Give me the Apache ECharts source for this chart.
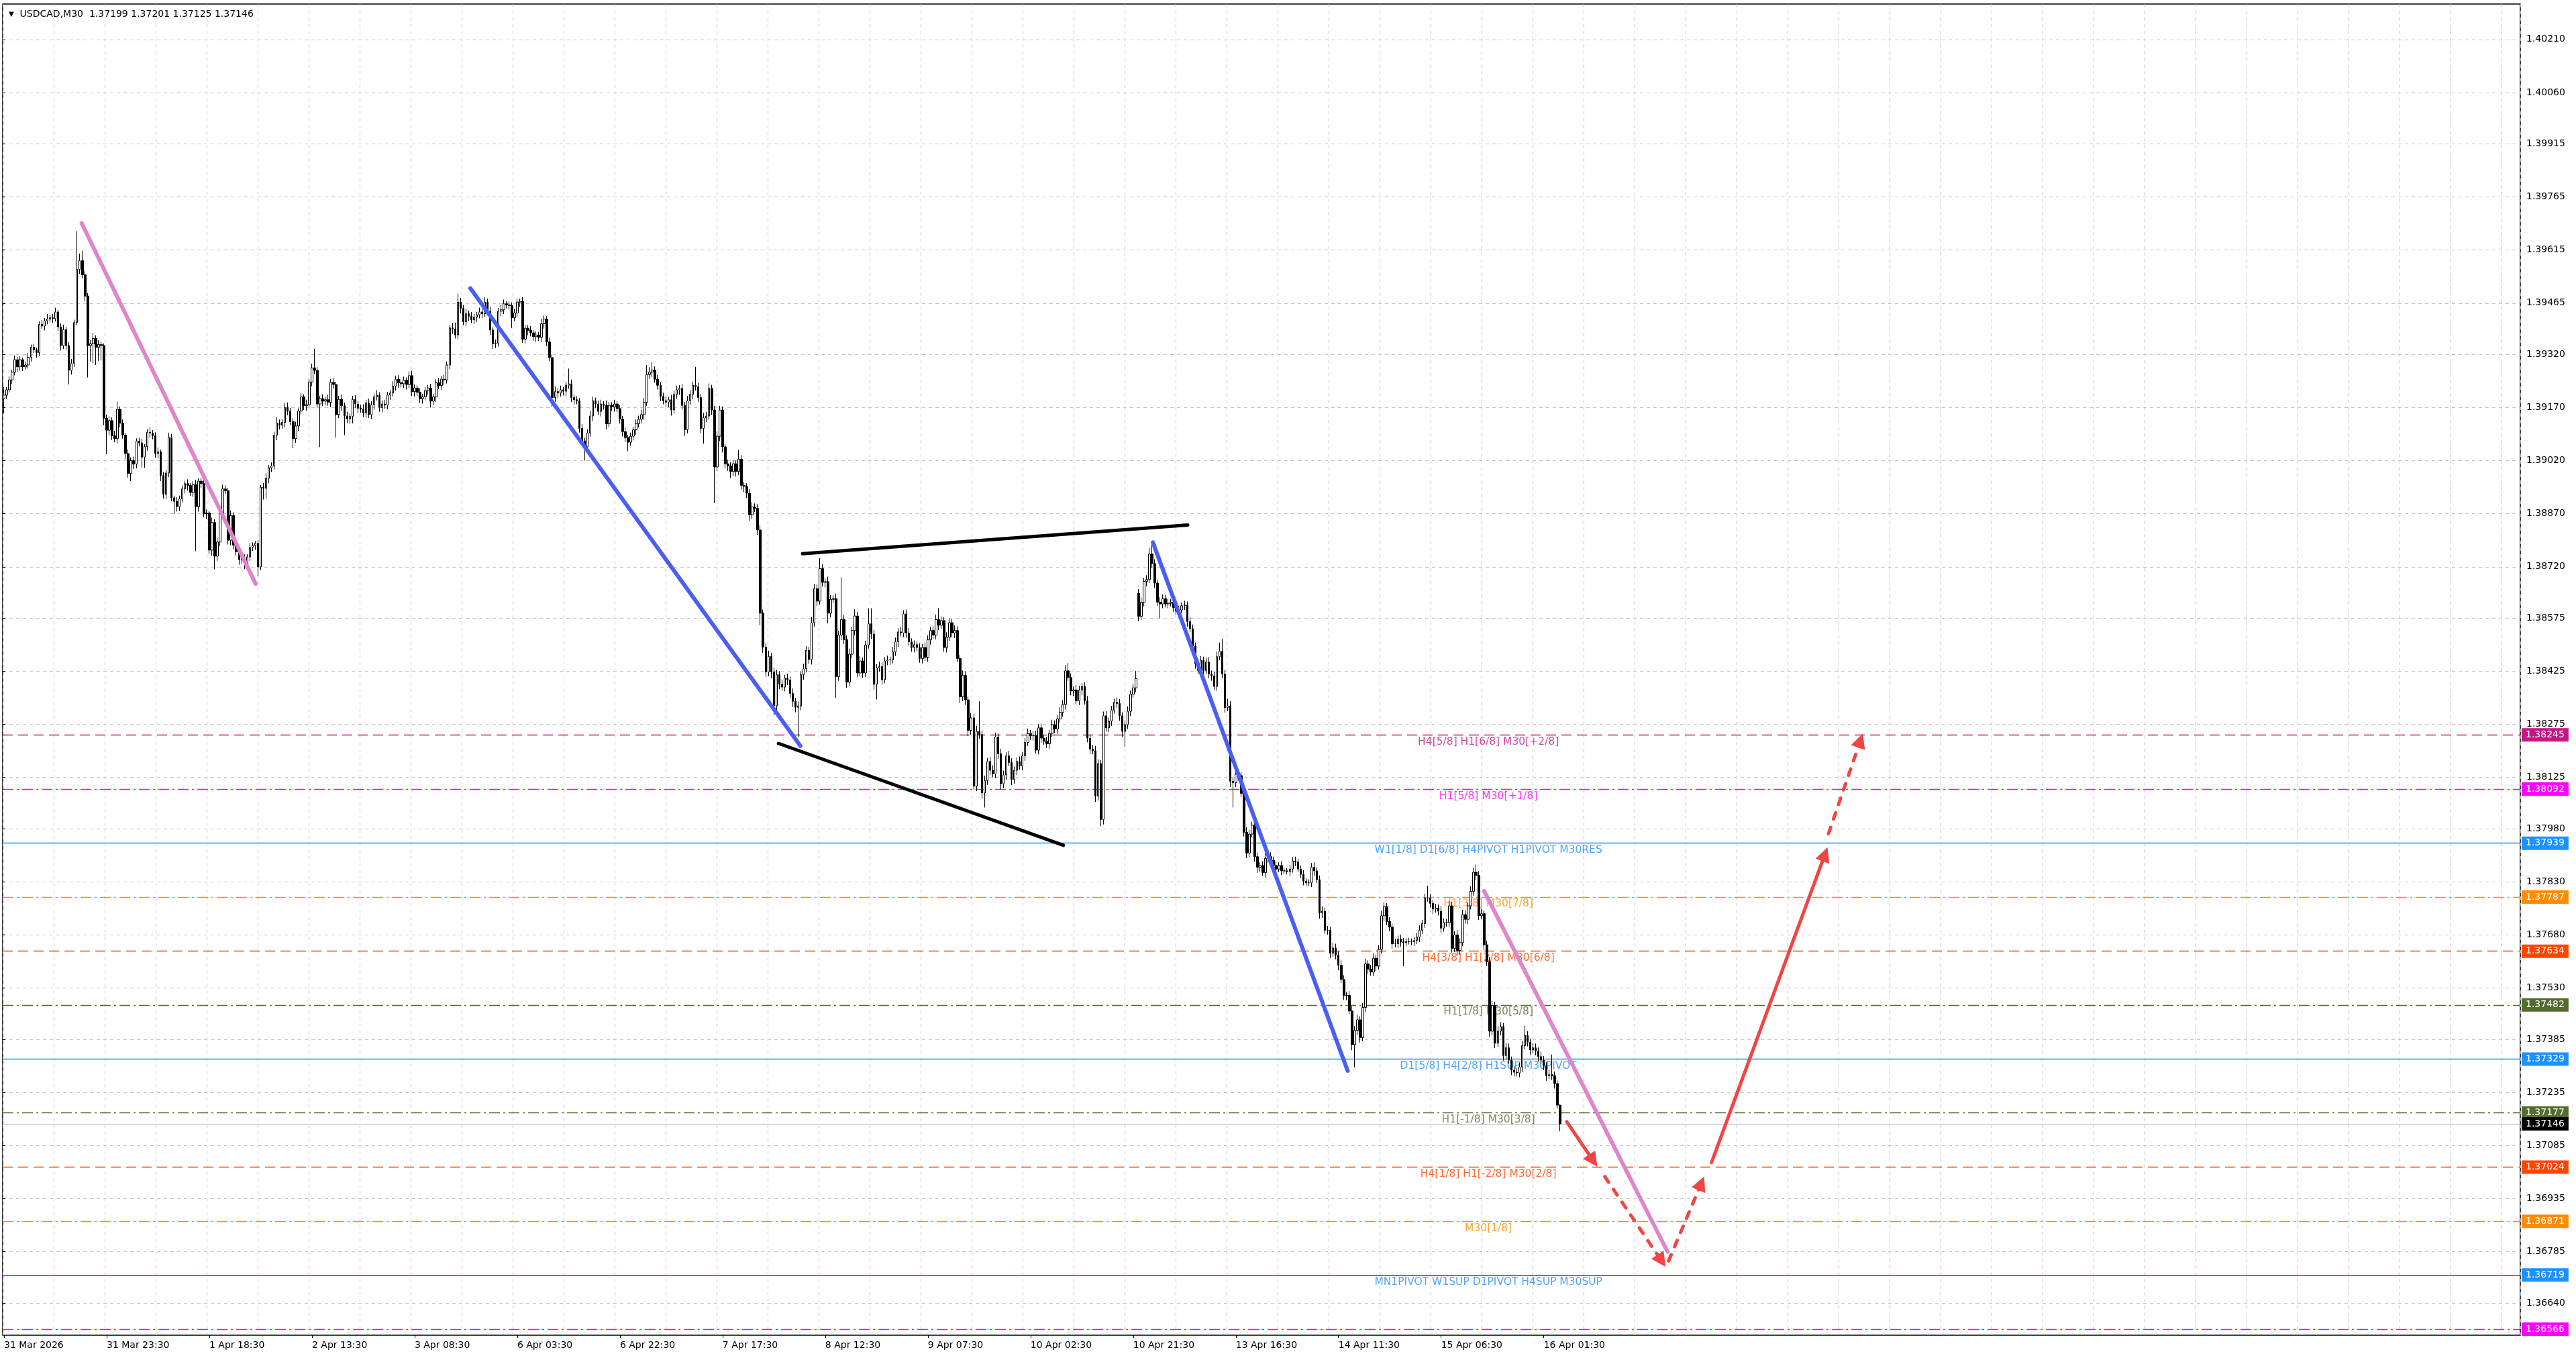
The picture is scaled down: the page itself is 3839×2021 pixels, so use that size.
<!DOCTYPE html>
<html><head><meta charset="utf-8">
<script src="https://cdn.jsdelivr.net/npm/echarts@6/dist/echarts.min.js"></script>
<style>html,body{margin:0;padding:0;background:#fff}#c{width:3839px;height:2021px}</style>
</head><body><div id="c"></div>
<script>
// ---------------- data (prices in points above 1.36000) ----------------
const symbolName = 'USDCAD,M30';
const basePrice = 1.36;
const firstOpenPts = 3195;
const gapOpens = {420: 2645};
const closePts = [
3205,3220,3248,3270,3305,3285,3305,3285,3290,3312,
3340,3333,3325,3405,3400,3415,3420,3424,3421,3440,
3398,3345,3390,3345,3275,3295,3410,3560,3585,3545,
3485,3345,3350,3365,3340,3348,3345,3140,3106,3133,
3090,3082,3165,3126,3092,3040,2984,3020,3010,3075,
3070,3030,3060,3100,3098,3090,3040,3045,2978,2925,
2985,3085,2915,2905,2890,2912,2940,2955,2950,2930,
2952,2890,2962,2955,2870,2872,2767,2845,2750,2790,
2870,2940,2935,2795,2865,2781,2762,2740,2745,2730,
2748,2775,2780,2786,2720,2945,2942,2970,3000,3005,
3092,3126,3120,3128,3170,3160,3130,3082,3118,3160,
3200,3175,3178,3242,3282,3275,3180,3195,3188,3192,
3185,3241,3235,3150,3193,3175,3146,3138,3145,3193,
3180,3168,3165,3155,3183,3150,3178,3200,3205,3170,
3180,3177,3205,3211,3230,3250,3240,3237,3247,3235,
3260,3215,3225,3213,3195,3200,3218,3225,3188,3200,
3240,3232,3250,3248,3290,3395,3392,3375,3468,3450,
3412,3435,3428,3418,3425,3432,3440,3435,
3468,3442,3389,3350,3352,3442,3446,3463,3460,3458,
3424,3437,3468,3470,3363,3394,3388,3381,3370,3375,
3368,3407,3420,3355,3311,3198,3215,3211,3220,3216,
3233,3237,3198,3192,3189,3111,3076,3059,3098,3146,
3189,3180,3159,3180,3176,3124,3176,3172,3180,3167,
3137,3102,3085,3072,3089,3107,3124,3137,3150,3185,
3263,3270,3276,3250,3233,3202,3189,3185,3192,3163,
3207,3220,3224,3176,3107,3189,3207,3233,3228,3198,
3111,3141,3146,3224,3163,3002,3089,3163,3059,3011,
3005,2989,3011,2989,3024,2950,2947,2928,2867,2889,
2885,2824,2589,2493,2423,2467,2423,2327,2415,2388,
2380,2406,2400,2362,2340,2323,2327,2415,2432,2484,
2458,2562,2658,2623,2715,2676,2678,2589,2628,2630,
2410,2527,2571,2514,2394,2473,2540,2581,2420,2454,
2420,2499,2559,2530,2388,2435,2438,2401,2454,2457,
2457,2480,2508,2536,2533,2587,2533,2508,2492,2500,
2492,2461,2492,2464,2514,2540,2527,2571,2555,2568,
2492,2521,2562,2533,2540,2461,2353,2413,2344,2258,
2293,2100,2255,2246,2081,2116,2170,2145,2135,2239,
2192,2107,2132,2186,2167,2119,2145,2170,2157,2186,
2224,2249,2243,2243,2202,2265,2236,2227,2220,2249,
2274,2262,2290,2309,2331,2426,2407,2369,2372,2341,
2372,2382,2341,2236,2205,2200,2072,2164,2006,2299,
2265,2284,2315,2337,2334,2299,2255,2274,2312,2360,2378,2404,
2580,2620,2679,2684,2756,2729,2674,2620,2615,2630,
2615,2617,2620,2605,2595,2598,2610,2612,2565,2545,
2496,2446,2427,2456,2427,2451,2417,2412,2382,2466,
2481,2417,2322,2327,2114,2110,2134,2130,2080,1970,
1911,1965,1990,1901,1871,1876,1856,1896,1901,1891,
1876,1866,1876,1861,1861,1859,1866,1889,1886,1866,
1851,1832,1827,1827,1871,1861,1836,1742,1747,1693,
1693,1628,1643,1623,1594,1554,1509,1509,1465,1370,
1410,1440,1390,1475,1598,1583,1575,1614,1592,1639,
1734,1760,1718,1702,1655,1655,1668,1661,1658,1661,
1662,1661,1664,1674,1693,1712,1784,1784,1769,1753,
1756,1747,1699,1715,1715,1762,1642,1680,1636,1658,
1737,1724,1762,1803,1857,1848,1734,1740,1652,1604,
1408,1481,1374,1408,1421,1339,1361,1326,1298,1292,
1290,1307,1367,1396,1377,1355,1361,1352,1336,1326,
1310,1282,1285,1282,1260,1199,1146
];
const wickUp = [
23,8,10,6,12,8,10,6,9,12, 8,10,6,9,12,8,14,7,10,12, 6,10,14,8,10,12,8,108,20,28,
12,8,10,16,9,12,8,6,10,12, 9,14,22,8,10,6,12,9,11,8, 10,12,7,9,14,8,10,12,6,10,
8,14,10,6,12,9,10,8,12,7, 10,14,8,9,12,10,6,14,9,11, 8,12,10,7,14,9,10,12,6,10,
8,12,9,7,10,6,12,14,8,10, 9,16,10,8,12,14,9,10,12,8, 10,7,14,9,12,54,10,8,12,9,
14,10,12,8,10,14,9,12,8,10, 12,9,10,14,8,12,10,9,14,8, 10,12,9,8,14,10,12,9,10,8,
12,14,10,9,12,8,10,9,12,8, 10,14,9,12,10,8,14,18,24,12, 10,14,9,12,10,8,12,9,13,10,
12,8,10,9,14,12,8,10,9,12, 10,8,12,10,9,12,8,10,9,14, 10,8,12,9,14,10,12,8,10,43,
12,9,10,8,12,9,10,14,12,9, 10,12,8,14,10,9,12,8,10,9, 12,8,10,9,12,10,14,12,27,14,
22,10,12,9,10,12,8,14,10,12, 9,12,10,14,12,10,52,12,10,14, 12,14,10,12,14,12,10,9,12,10,
12,9,26,12,10,9,12,14,10,12, 14,10,12,16,10,12,14,10,12,9, 12,10,14,9,12,10,14,12,10,16,
14,12,30,12,10,14,12,10,14,12, 119,14,12,16,10,19,12,14,10,12, 44,44,12,10,14,12,10,12,9,14,
12,10,14,10,12,14,10,12,9,12, 10,14,12,10,12,14,32,12,10,14, 12,10,14,12,10,14,12,10,14,12,
16,85,12,14,10,12,14,12,10,14, 12,10,14,12,10,12,14,10,12,14, 10,12,14,10,12,9,12,10,14,12,
10,14,12,16,22,12,10,14,12,10, 12,14,10,12,14,12,10,12,14,10, 12,10,14,12,10,12,14,10,12,22,
12,14,10,12,18,32,12,10,14,12, 10,12,9,12,10,12,9,12,10,14, 12,10,14,12,10,12,14,10,12,14,
25,35,12,20,14,10,12,14,10,12, 14,12,10,14,12,10,12,14,10,12, 10,12,9,12,10,8,12,10,12,9,
10,12,8,10,12,14,10,12,14,10, 12,10,14,12,10,14,12,10,12,14, 12,14,10,12,14,10,12,14,10,12,
14,12,10,12,10,14,10,12,10,9, 10,8,10,12,14,10,12,35,12,10, 12,10,14,12,10,14,12,10,14,12,
14,12,10,14,12,22,12,14,10,12, 14,12,10,14,12,10,14,12,10,12, 10,12,14,28,12,10,14,12,10,14,
12,10,14,57,12,10,2
];
const wickDn = [
42,10,8,12,9,14,10,12,8,10, 12,9,14,10,8,12,10,9,12,8, 12,14,10,12,40,12,10,8,12,10,
14,90,45,55,50,38,42,20,68,14, 12,10,14,12,10,16,12,22,14,12, 10,30,30,12,14,10,12,14,16,12,
14,12,10,36,14,12,10,12,14,10, 12,126,14,12,10,14,12,16,37,14, 12,16,10,12,14,12,10,14,12,16,
14,12,10,12,27,10,32,30,14,12, 10,14,12,10,14,12,10,27,12,14, 10,12,14,10,12,10,12,122,14,12,
10,14,12,65,10,14,54,12,14,20, 12,14,10,12,14,10,12,14,10,12, 14,10,12,14,10,12,14,10,12,14,
10,12,14,10,12,14,10,12,18,12, 14,10,12,14,10,12,14,10,12,14, 10,12,14,10,12,14,10,12,10,12,
14,15,12,10,14,12,10,12,29,10, 12,14,10,12,14,10,12,14,10,12, 14,12,10,26,12,14,10,12,14,10,
12,14,10,12,14,39,12,10,14,12, 10,14,12,16,10,12,14,10,12,14, 12,26,10,12,14,10,12,14,10,12,
14,10,12,14,10,12,14,16,10,12, 14,12,17,10,12,14,10,12,14,43, 12,10,14,102,12,14,16,12,14,18,
12,14,10,12,16,14,17,12,10,14, 34,16,14,12,18,27,12,14,10,12, 14,12,16,14,83,12,14,10,12,14,
12,14,10,12,14,29,12,10,60,12, 14,12,16,10,12,14,12,10,14,12, 10,14,16,43,12,14,10,12,14,10,
12,14,10,12,14,10,12,14,10,12, 14,10,12,14,10,12,14,10,12,14, 10,12,14,10,18,12,14,16,12,10,
14,12,16,41,12,14,10,12,14,16, 12,14,10,16,12,14,10,12,14,10, 12,14,10,12,14,10,12,14,10,12,
14,10,12,14,10,12,14,10,12,14, 10,12,14,10,16,12,19,14,10,12, 14,10,12,14,16,44,12,14,10,12,
14,10,12,14,10,12,14,10,40,12, 10,12,9,12,10,12,9,12,14,10, 12,14,10,12,14,10,12,14,10,12,
10,12,14,10,16,70,12,14,10,12, 14,12,10,14,16,12,10,14,12,10, 12,10,9,12,10,8,12,10,12,9,
10,12,8,10,12,14,10,16,14,10, 12,14,10,12,14,10,12,14,10,16, 64,12,14,10,12,14,10,12,14,10,
12,14,10,12,14,10,12,14,66,10, 8,10,12,10,14,10,12,10,12,14, 10,12,14,10,12,14,12,10,14,12,
10,12,14,10,12,14,12,10,14,12, 16,12,14,10,12,14,12,10,14,12, 10,12,14,10,12,14,10,12,14,10,
12,14,10,12,14,10,21
];
const xTickLabels = ['31 Mar 2026','31 Mar 23:30','1 Apr 18:30','2 Apr 13:30','3 Apr 08:30','6 Apr 03:30','6 Apr 22:30','7 Apr 17:30','8 Apr 12:30','9 Apr 07:30','10 Apr 02:30','10 Apr 21:30','13 Apr 16:30','14 Apr 11:30','15 Apr 06:30','16 Apr 01:30'];
const yTickLabels = ['1.40210','1.40060','1.39915','1.39765','1.39615','1.39465','1.39320','1.39170','1.39020','1.38870','1.38720','1.38575','1.38425','1.38275','1.38125','1.37980','1.37830','1.37680','1.37530','1.37385','1.37235','1.37085','1.36935','1.36785','1.36640'];
const levelPrices = [1.38245,1.38092,1.37939,1.37787,1.37634,1.37482,1.37329,1.37177,1.37024,1.36871,1.36719,1.36566];
const levelTexts = ['H4[5/8] H1[6/8] M30[+2/8]','H1[5/8] M30[+1/8]','W1[1/8] D1[6/8] H4PIVOT H1PIVOT M30RES','H1[3/8] M30[7/8]','H4[3/8] H1[2/8] M30[6/8]','H1[1/8] M30[5/8]','D1[5/8] H4[2/8] H1SUP M30PIVOT','H1[-1/8] M30[3/8]','H4[1/8] H1[-2/8] M30[2/8]','M30[1/8]','MN1PIVOT W1SUP D1PIVOT H4SUP M30SUP',''];
const levelColors = ['#C71585','#FF00FF','#1E90FF','#FF8C00','#FF4500','#556B2F','#1E90FF','#556B2F','#FF4500','#FF8C00','#1E90FF','#FF00FF'];
const levelStyles = ['dash','dashdot','solid','dashdot','dash','dashdot','solid','dashdot','dash','dashdot','solid','dashdot'];
// drawn objects: [barIndex, price]
const trendLines = [
  {from:[28.74,1.39691], to:[93.15,1.38672], color:'#DE85CC', width:6},
  {from:[172.6,1.39507], to:[294.8,1.38214], color:'#4A5EF2', width:6},
  {from:[286.7,1.38221], to:[392.2,1.37933], color:'#000000', width:5},
  {from:[295.6,1.38757], to:[438.2,1.38838], color:'#000000', width:5},
  {from:[425.3,1.38789], to:[497.4,1.37296], color:'#4A5EF2', width:6},
  {from:[547.9,1.37804], to:[615.8,1.36785], color:'#DE85CC', width:6}
];
const arrows = [
  {from:[578.5,1.37152], to:[588.3,1.37042], dashed:false},
  {from:[592.6,1.36997], to:[613.6,1.36759], dashed:true},
  {from:[616.2,1.36759], to:[628.3,1.36978], dashed:true},
  {from:[632.1,1.37037], to:[674.1,1.37908], dashed:false},
  {from:[675.4,1.37966], to:[687.2,1.38229], dashed:true}
];

// ---------------- layout ----------------
const W = 3839, H = 2021;
const G = {left:4, right:83, top:6, bottom:31};
const plotW = W - G.left - G.right;
const slotCount = 932;
const barPx = plotW / slotCount;
const gridStep = 76 / barPx;
const yMin = 1.36549, yMax = 1.40310;
const FONT = 'DejaVu Sans';
const levelTextX = 550;

const px = v => +(basePrice + v / 100000).toFixed(5);
const candles = closePts.map((c, i) => {
  const o = i === 0 ? firstOpenPts : (gapOpens[i] !== undefined ? gapOpens[i] : closePts[i - 1]);
  const hi = Math.max(o, c) + wickUp[i];
  const lo = Math.min(o, c) - wickDn[i];
  return [px(o), px(c), px(lo), px(hi)];
});
const lastBar = candles[candles.length - 1];
const lastClose = lastBar[1];

// categories: M30 bar times, weekdays only
const categories = [];
(function(){
  let t = Date.UTC(2026, 2, 31, 4, 30);
  const mon = ['Jan','Feb','Mar','Apr','May','Jun','Jul','Aug','Sep','Oct','Nov','Dec'];
  while (categories.length < slotCount) {
    const d = new Date(t);
    const wd = d.getUTCDay();
    if (wd !== 0 && wd !== 6) {
      categories.push(d.getUTCDate() + ' ' + mon[d.getUTCMonth()] + ' ' +
        String(d.getUTCHours()).padStart(2,'0') + ':' + String(d.getUTCMinutes()).padStart(2,'0'));
    }
    t += 1800000;
  }
})();

const dashType = s => s === 'dash' ? [15, 8] : (s === 'dashdot' ? [16, 5, 3, 5] : 'solid');
const yTickVals = yTickLabels.map(Number);
const showX = idx => idx % 38 === 0 && idx / 38 < xTickLabels.length;

const tagLabel = (txt, bg) => ({show: true, position: 'end', distance: 2, formatter: txt, color: '#fff',
  backgroundColor: bg, padding: [3, 6, 3, 6], fontFamily: FONT, fontSize: 14});
const levelItems = levelPrices.map((p, k) => ({
  coords: [[0, p], [slotCount, p]],
  lineStyle: {color: levelColors[k], type: dashType(levelStyles[k]), width: k === 10 ? 2 : 1.4, opacity: 1},
  label: tagLabel(p.toFixed(5), levelColors[k])
}));
levelItems.push({
  coords: [[0, lastClose], [slotCount, lastClose]],
  lineStyle: {color: '#B8B8B8', type: 'solid', width: 1.2, opacity: 1},
  label: tagLabel(lastClose.toFixed(5), '#000000')
});

const f5 = v => v.toFixed(5);
const chart = echarts.init(document.getElementById('c'), null, {renderer: 'canvas', width: W, height: H});
chart.setOption({
  animation: false,
  backgroundColor: '#ffffff',
  title: {
    text: '{t|▼}  ' + symbolName + '  ' + [lastBar[0], lastBar[3], lastBar[2], lastBar[1]].map(f5).join(' '),
    left: 8, top: 9,
    textStyle: {fontFamily: FONT, fontSize: 14, fontWeight: 'normal', color: '#000',
      rich: {t: {fontSize: 10, color: '#000', fontFamily: FONT}}}
  },
  grid: {left: G.left, right: G.right, top: G.top, bottom: G.bottom, show: true,
    borderColor: '#000', borderWidth: 1.5, backgroundColor: '#fff'},
  xAxis: [{
    type: 'category', data: categories, boundaryGap: true,
    axisLine: {show: false},
    axisTick: {show: true, interval: showX, alignWithLabel: true, length: 4, lineStyle: {color: '#000'}},
    axisLabel: {show: true, interval: showX, align: 'left', margin: 8, fontFamily: FONT, fontSize: 14, color: '#000',
      formatter: (v, idx) => showX(idx) ? xTickLabels[idx / 38] : ''},
    splitLine: {show: false}
  }, {
    type: 'value', position: 'top', min: 0, max: slotCount, interval: gridStep,
    axisLine: {show: false}, axisTick: {show: false}, axisLabel: {show: false},
    splitLine: {show: true, lineStyle: {color: '#C4C4C4', type: [5, 5], width: 1}}
  }],
  yAxis: [{
    type: 'value', position: 'right', min: yMin, max: yMax, scale: true,
    axisLine: {show: false},
    axisTick: {show: true, customValues: yTickVals, length: 4, lineStyle: {color: '#000'}},
    axisLabel: {show: true, customValues: yTickVals, margin: 9, fontFamily: FONT, fontSize: 14, color: '#000',
      formatter: v => { const k = yTickVals.indexOf(v); return k >= 0 ? yTickLabels[k] : v.toFixed(5); }},
    splitLine: {show: true, lineStyle: {color: '#C4C4C4', type: [5, 5], width: 1}}
  }],
  series: [{
    type: 'lines', name: 'levels', coordinateSystem: 'cartesian2d', xAxisIndex: 1, yAxisIndex: 0, z: 1, silent: true,
    clip: false, symbol: 'none',
    lineStyle: {opacity: 1, width: 1},
    label: {show: true, position: 'end', distance: 2, color: '#fff', fontFamily: FONT, fontSize: 14, padding: [3, 6, 3, 6]},
    data: levelItems
  }, {
    type: 'scatter', name: 'levelText', xAxisIndex: 1, yAxisIndex: 0, z: 1, silent: true,
    symbolSize: 1, itemStyle: {color: 'rgba(0,0,0,0)'},
    data: levelTexts.map((t, k) => t ? {
      value: [levelTextX, levelPrices[k]],
      label: {show: true, position: 'bottom', distance: 2, formatter: t, color: levelColors[k],
        fontFamily: FONT, fontSize: 15.5}
    } : null).filter(Boolean)
  }, {
    type: 'candlestick', name: symbolName, xAxisIndex: 0, yAxisIndex: 0, z: 2, silent: true,
    data: candles, barWidth: 3, barMaxWidth: 3,
    itemStyle: {color: '#ffffff', color0: '#000000', borderColor: '#000000', borderColor0: '#000000', borderWidth: 1}
  }, {
    type: 'lines', name: 'trend', coordinateSystem: 'cartesian2d', xAxisIndex: 1, yAxisIndex: 0, z: 4, silent: true,
    symbol: 'none', lineStyle: {opacity: 1},
    data: trendLines.map(l => ({
      coords: [[l.from[0] + 0.5, l.from[1]], [l.to[0] + 0.5, l.to[1]]],
      lineStyle: {color: l.color, width: l.width, cap: 'round', opacity: 1, curveness: 0}
    }))
  }, {
    type: 'lines', name: 'arrows', coordinateSystem: 'cartesian2d', xAxisIndex: 1, yAxisIndex: 0, z: 5, silent: true,
    symbol: ['none', 'triangle'], symbolSize: [20, 22], lineStyle: {opacity: 1},
    data: arrows.map(a => ({
      coords: [[a.from[0] + 0.5, a.from[1]], [a.to[0] + 0.5, a.to[1]]],
      lineStyle: {color: '#F24444', width: 5, cap: 'round', opacity: 1, curveness: 0,
        type: a.dashed ? [10, 13] : 'solid'}
    }))
  }]
});
</script></body></html>
